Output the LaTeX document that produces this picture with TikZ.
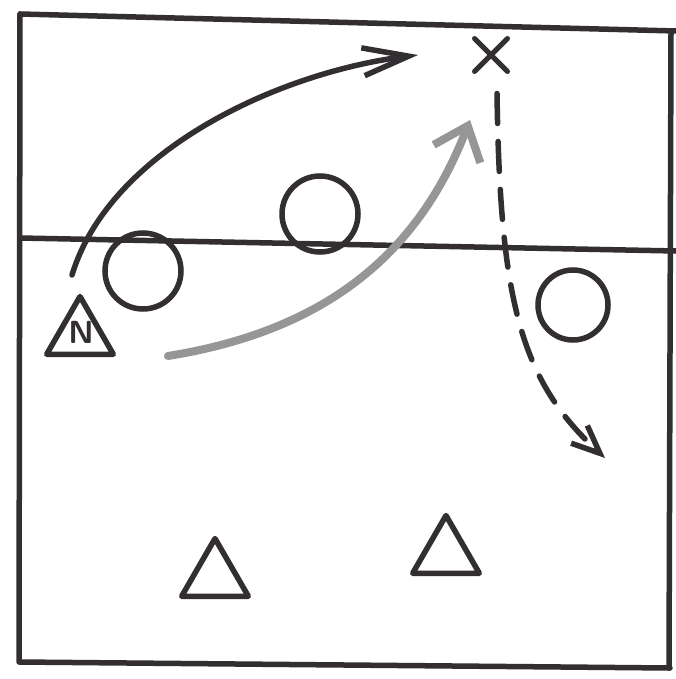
\documentclass[tikz,border=0pt]{standalone}
\usepackage{fontspec}
\setmainfont{DejaVu Sans}
\usetikzlibrary{arrows.meta,shapes.geometric,shapes.misc}
\definecolor{inkc}{RGB}{50,46,50}
\definecolor{pencil}{RGB}{150,150,152}
\begin{document}
\begin{tikzpicture}[x=1pt,y=-1pt,
  ink/.style={draw=inkc,line width=5.5pt,line cap=round,line join=round},
  player/.style={circle,draw=inkc,line width=5.5pt,minimum size=76pt,inner sep=0pt},
  tri/.style={regular polygon,regular polygon sides=3,draw=inkc,line width=5.5pt,
    line join=round,minimum size=77pt,inner sep=0pt},
  cross/.style={cross out,draw=inkc,line width=5pt,line cap=round,minimum size=28pt,inner sep=0pt},
  grayarrow/.style={draw=pencil,line width=8pt,line cap=round,line join=round}]
\useasboundingbox (0,0) rectangle (676,679);
\fill[white] (0,0) rectangle (676,679);
% court frame
\draw[ink] (20,14) -- (676,31);
\draw[ink] (20,14) -- (19,662) -- (670,668);
\draw[ink] (671,31) -- (669,668);
% net
\draw[ink] (20,238) -- (676,251);
% players
\node[player] (c1) at (143,271) {};
\node[player] (c2) at (320,214) {};
\node[player,minimum size=70pt] (c3) at (573,305) {};
\node[tri] (tn) at (80,335) {};
\node[tri] (ta) at (215,577) {};
\node[tri] (tb) at (446,554) {};
\node[font=\sffamily\bfseries\fontsize{32}{32}\selectfont,text=inkc] (nl) at (81,332) {N};
\node[cross] (x) at (491,55) {};
% arrows
\coordinate (bs) at (72,275);
\coordinate (bt) at (418,55);
\draw[ink,-{Straight Barb[length=46pt,width=28pt]}] (bs) .. controls (110,150) and (280,72) .. (bt);
\coordinate (gs) at (168,356);
\coordinate (gt) at (470,120);
\draw[grayarrow,-{Straight Barb[length=30pt,width=50pt]}] (gs) .. controls (330,330) and (420,250) .. (gt);
\coordinate (dt) at (605,458);
\draw[ink,dash pattern=on 30pt off 18pt,-{Straight Barb[length=28pt,width=24pt]}]
  ([xshift=6pt,yshift=-22pt]x.south) .. controls (500,300) and (520,380) .. (dt);
\end{tikzpicture}
\end{document}
